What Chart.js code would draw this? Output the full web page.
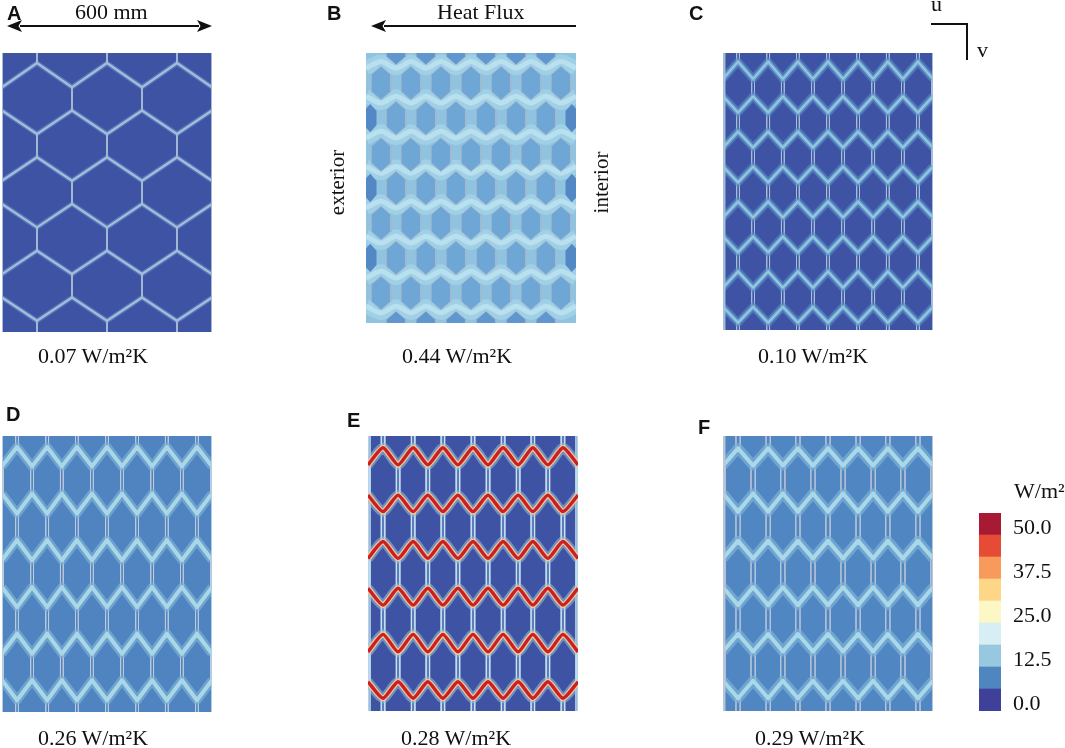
<!DOCTYPE html>
<html>
<head>
<meta charset="utf-8">
<script src="https://cdn.jsdelivr.net/npm/chart.js@4"></script>
<style>
  html, body { margin: 0; padding: 0; background: #fff; }
  #page { position: relative; width: 1065px; height: 748px; overflow: hidden; }
  canvas { position: absolute; }
  canvas.panel { filter: blur(0.7px); }
  .t { position: absolute; white-space: nowrap; line-height: 1; color: #111; font-family: "Liberation Serif", serif; font-size: 22px; }
  .l { position: absolute; line-height: 1; color: #111; font-family: "Liberation Sans", sans-serif; font-weight: bold; font-size: 20px; }
  .r { transform: rotate(-90deg); transform-origin: center; font-size: 21px; }
  svg { position: absolute; left: 0; top: 0; }
</style>
</head>
<body>
<div id="page">
  <canvas class="panel" id="pA" width="210" height="279" style="left:2px;top:53px"></canvas>
  <canvas class="panel" id="pB" width="210" height="270" style="left:366px;top:53px"></canvas>
  <canvas class="panel" id="pC" width="210" height="277" style="left:723px;top:53px"></canvas>
  <canvas class="panel" id="pD" width="210" height="276" style="left:2px;top:436px"></canvas>
  <canvas class="panel" id="pE" width="210" height="275" style="left:368px;top:436px"></canvas>
  <canvas class="panel" id="pF" width="210" height="275" style="left:723px;top:436px"></canvas>
  <canvas id="scale" width="86" height="198" style="left:979px;top:513px"></canvas>

  <svg width="1065" height="748">
    <defs>
      <marker id="head" markerWidth="16" markerHeight="12" refX="2" refY="6" orient="auto-start-reverse" markerUnits="userSpaceOnUse">
        <path d="M15 6 L0 0 L3.5 6 L0 12 Z" fill="#111"/>
      </marker>
    </defs>
    <line x1="20" y1="26" x2="199" y2="26" stroke="#111" stroke-width="2" marker-start="url(#head)" marker-end="url(#head)"/>
    <line x1="576" y1="26" x2="384" y2="26" stroke="#111" stroke-width="2" marker-end="url(#head)"/>
    <path d="M931 24 H967 V60" fill="none" stroke="#111" stroke-width="2"/>
  </svg>

  <div class="l" style="left:7px;top:3px">A</div>
  <div class="l" style="left:327px;top:3px">B</div>
  <div class="l" style="left:689px;top:3px">C</div>
  <div class="l" style="left:6px;top:404px">D</div>
  <div class="l" style="left:347px;top:410px">E</div>
  <div class="l" style="left:698px;top:417px">F</div>

  <div class="t" style="left:75px;top:1px">600 mm</div>
  <div class="t" style="left:437px;top:1px">Heat Flux</div>
  <div class="t" style="left:931px;top:-7px">u</div>
  <div class="t" style="left:977px;top:39px">v</div>
  <div class="t r" style="left:305px;top:172px">exterior</div>
  <div class="t r" style="left:571px;top:172px">interior</div>
  <div class="t" style="left:38px;top:345px">0.07 W/m²K</div>
  <div class="t" style="left:402px;top:345px">0.44 W/m²K</div>
  <div class="t" style="left:758px;top:345px">0.10 W/m²K</div>
  <div class="t" style="left:38px;top:727px">0.26 W/m²K</div>
  <div class="t" style="left:401px;top:727px">0.28 W/m²K</div>
  <div class="t" style="left:755px;top:727px">0.29 W/m²K</div>
  <div class="t" style="left:1014px;top:480px">W/m²</div>
</div>

<script>
// all geometry in mm: wall section 600 wide, 800 high
const xWide = [0, 100, 200, 300, 400, 500, 600];
const xNarrow = [0, 43, 86, 129, 171, 214, 257, 300, 343, 386, 429, 471, 514, 557, 600];

// ridge rows: y at even vertex, y at odd vertex
const rowsA = [[98, 29], [165, 232], [366, 299], [433, 500], [634, 567], [701, 768]];
const rowsC = [[75, 25], [125, 172], [273, 227], [328, 374], [475, 429], [530, 576], [678, 631], [733, 779]];
const rowsD = [[88, 32], [167, 225], [360, 302], [438, 496], [631, 573], [708, 766]];
const rowsE = [[84, 34], [172, 220], [356, 307], [443, 492], [628, 577], [715, 763]];
const rowsF = [[86, 36], [167, 220], [356, 305], [440, 492], [627, 576], [712, 763]];
const bandsB = [[45, 25], [128, 148], [252, 232], [336, 356], [459, 439], [543, 563], [667, 647], [750, 770]];

// panel B cell centres
const cellXOdd = [43, 128, 214, 300, 386, 471, 557];
const cellXEven = [86, 171, 257, 343, 429, 514];
const cellYOdd = [89, 301, 504, 711];
const cellYEven = [193, 400, 607];
const cellYClipped = [-15, 815];
const edgeCellX = [12, 588];

// colour scale
const scaleLabels = ['50.0', '', '37.5', '', '25.0', '', '12.5', '', '0.0'];
const scaleColors = ['#a81a34', '#e64c35', '#f89a5b', '#fdd688', '#fcf7c4', '#d7eef4', '#98c7e0', '#4f86bf', '#3e409a'];

function ridge(xs, rows) {
  const pts = [];
  rows.forEach(r => {
    xs.forEach((x, i) => pts.push({ x: x, y: r[i % 2] }));
    pts.push({ x: 0, y: null });
  });
  return pts;
}

// vertical walls between ridge rows, off = half the gap of a double wall
function stems(xs, rows, off) {
  const pts = [];
  const add = (x, y0, y1) => {
    const list = off ? [x - off, x + off] : [x];
    list.forEach(v => pts.push({ x: v, y: y0 }, { x: v, y: y1 }, { x: v, y: null }));
  };
  const n = rows.length - 1;
  xs.forEach((x, i) => {
    const ys = rows.map(r => r[i % 2]);
    const others = rows.map(r => r[(i + 1) % 2]);
    for (let r = 0; r < n; r++) {
      if (ys[r] > others[r] && ys[r + 1] < others[r + 1]) add(x, ys[r], ys[r + 1]);
    }
    if (ys[0] < others[0]) add(x, 0, ys[0]);
    if (ys[n] > others[n]) add(x, ys[n], 800);
  });
  return pts;
}

function hex(cx, cy, hw, hh) {
  const s = hh * 0.5;
  return [
    { x: cx, y: cy - hh }, { x: cx + hw, y: cy - s }, { x: cx + hw, y: cy + s },
    { x: cx, y: cy + hh }, { x: cx - hw, y: cy + s }, { x: cx - hw, y: cy - s },
    { x: cx, y: cy - hh }
  ];
}

const back = color => ({
  data: [{ x: 0, y: 0 }, { x: 600, y: 0 }],
  borderWidth: 0, borderColor: color, backgroundColor: color, fill: { value: 800 }
});
const line = (data, color, width, tension) => ({
  data: data, borderColor: color, borderWidth: width, tension: tension || 0,
  fill: false, borderJoinStyle: 'round', borderCapStyle: 'butt'
});
const edges = (xs, color, width) => line(
  xs.flatMap(x => [{ x: x, y: 0 }, { x: x, y: 800 }, { x: x, y: null }]), color, width
);
const cell = (c, fill, stroke, width) => ({
  data: c, borderColor: stroke, borderWidth: width, backgroundColor: fill, fill: 'shape'
});

function panel(id, layers) {
  new Chart(document.getElementById(id), {
    type: 'scatter',
    // chart.js paints the first dataset last, layers are listed bottom to top
    data: { datasets: layers.slice().reverse().map(d => Object.assign({ showLine: true, pointRadius: 0 }, d)) },
    options: {
      responsive: false,
      animation: false,
      layout: { padding: 0 },
      plugins: { legend: { display: false }, tooltip: { enabled: false } },
      scales: {
        x: { type: 'linear', min: 0, max: 600, display: false },
        y: { type: 'linear', min: 0, max: 800, reverse: true, display: false }
      }
    }
  });
}

panel('pA', [
  back('#3f53a5'),
  line(ridge(xWide, rowsA), 'rgba(96,140,200,0.6)', 5),
  line(stems(xWide, rowsA, 0), '#a3b6d2', 2),
  line(ridge(xWide, rowsA), '#a4bcd8', 2.4),
  edges([1, 599], '#a8bbd6', 1)
]);

const cellsB = [];
cellYOdd.forEach(y => cellXOdd.forEach(x => cellsB.push(hex(x, y, 28, 50))));
cellYEven.forEach(y => cellXEven.forEach(x => cellsB.push(hex(x, y, 28, 50))));
const clippedB = [];
cellYClipped.forEach(y => cellXEven.forEach(x => clippedB.push(hex(x, y, 28, 50))));
const sideB = [];
cellYEven.forEach(y => edgeCellX.forEach(x => sideB.push(hex(x, y, 18, 42))));
panel('pB', [
  back('#90c3e0'),
  line(ridge(xNarrow, bandsB), '#a0d0e6', 14, 0.3),
  line(ridge(xNarrow, bandsB), '#b8e0ee', 5, 0.3),
  ...sideB.map(c => cell(c, '#5488c4', '#5488c4', 0)),
  ...clippedB.map(c => cell(c, '#5f97ce', '#a9b9cd', 0.8)),
  ...cellsB.map(c => cell(c, '#6ea6d6', '#a6b8ce', 1))
]);

panel('pC', [
  back('#3f53a5'),
  line(stems(xNarrow, rowsC, 4), 'rgba(170,195,220,0.85)', 0.9),
  line(ridge(xNarrow, rowsC), 'rgba(90,140,200,0.6)', 8),
  line(ridge(xNarrow, rowsC), '#74aed3', 4),
  line(ridge(xNarrow, rowsC), '#a2cde0', 1.2),
  edges([1, 5, 599], 'rgba(170,195,220,0.85)', 0.9)
]);

panel('pD', [
  back('#4f84c0'),
  line(stems(xNarrow, rowsD, 4), 'rgba(195,205,220,0.8)', 0.9),
  line(ridge(xNarrow, rowsD), 'rgba(125,176,214,0.7)', 9),
  line(ridge(xNarrow, rowsD), '#a9d7e7', 4),
  edges([1, 599], '#b4d0e4', 1.2)
]);

panel('pE', [
  back('#3f53a5'),
  line(stems(xNarrow, rowsE, 0), 'rgba(110,166,212,0.55)', 5),
  line(stems(xNarrow, rowsE, 5), 'rgba(210,228,240,0.9)', 0.9),
  edges([2, 6, 594, 598], 'rgba(190,220,234,0.8)', 0.9),
  line(ridge(xNarrow, rowsE), 'rgba(150,195,220,0.55)', 10, 0.2),
  line(ridge(xNarrow, rowsE), 'rgba(253,205,135,0.9)', 6, 0.2),
  line(ridge(xNarrow, rowsE), '#ca1f2b', 3.4, 0.2)
]);

panel('pF', [
  back('#5086c2'),
  line(stems(xNarrow, rowsF, 6), 'rgba(190,200,215,0.85)', 0.9),
  line(ridge(xNarrow, rowsF), 'rgba(125,178,216,0.7)', 10),
  line(ridge(xNarrow, rowsF), '#a9d8e8', 4),
  edges([1, 5, 599], 'rgba(190,200,215,0.85)', 0.9)
]);

new Chart(document.getElementById('scale'), {
  type: 'bar',
  data: {
    labels: scaleLabels,
    datasets: [{
      data: scaleLabels.map(() => 1),
      backgroundColor: scaleColors,
      borderWidth: 0,
      categoryPercentage: 1,
      barPercentage: 1
    }]
  },
  options: {
    indexAxis: 'y',
    responsive: false,
    animation: false,
    layout: { padding: 0 },
    plugins: { legend: { display: false }, tooltip: { enabled: false } },
    scales: {
      x: { min: 0, max: 1, display: false },
      y: {
        position: 'right',
        grid: { display: false, drawTicks: false },
        border: { display: false },
        afterFit: s => { s.width = 64; s.paddingTop = 0; s.paddingBottom = 0; },
        ticks: {
          autoSkip: false, padding: 12, color: '#111', labelOffset: 4,
          font: { family: '"Liberation Serif", serif', size: 22 }
        }
      }
    }
  }
});
</script>
</body>
</html>
